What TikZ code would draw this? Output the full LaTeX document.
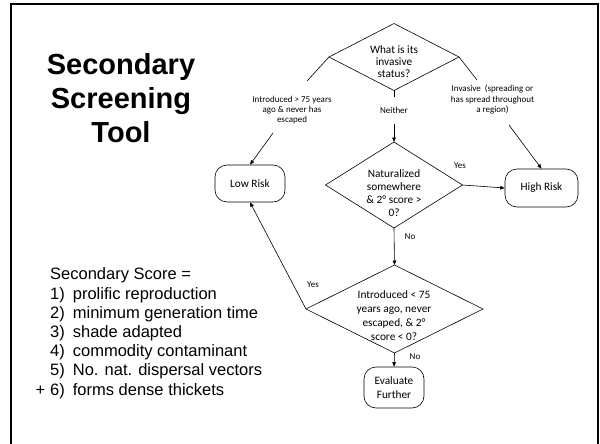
\documentclass[tikz,border=0pt]{standalone}
\usepackage{fontspec}
\setmainfont{Carlito}
\newfontfamily\arialfont{Liberation Sans}
\usetikzlibrary{arrows.meta,shapes.geometric}
\tikzset{
  flowline/.style={draw=black, line width=0.6pt},
  arrowline/.style={flowline, -{Triangle[length=4.5pt,width=3.6pt]}},
  decision/.style={draw=black, line width=0.6pt, diamond, inner sep=0pt, outer sep=0pt},
  terminal/.style={draw=black, line width=0.6pt, rectangle, rounded corners=12pt, inner sep=0pt,
    align=center, font=\fontsize{11.3}{13.5}\selectfont},
  qtext/.style={align=center, inner sep=0pt},
  smalltext/.style={align=center, inner sep=0pt, font=\fontsize{9}{10.2}\selectfont},
}
\begin{document}
\begin{tikzpicture}[x=1pt,y=-1pt]
\useasboundingbox (0,0) rectangle (600,444);
% frame
\draw[line width=2pt, line join=miter] (11,446) -- (11,4.2) -- (598.3,4.2) -- (598.3,446);

% title (base anchor = baseline of the last line)
\node[anchor=base, align=center, inner sep=0pt,
  font=\arialfont\bfseries\fontsize{29}{34}\selectfont] (title) at (121,142)
  {Secondary\\Screening\\Tool};

% secondary score list
\node[anchor=base west, align=left, inner sep=0pt,
  font=\arialfont\fontsize{16.5}{19.2}\selectfont] (score) at (50,395)
  {Secondary Score =\\
   \makebox[22.7pt][l]{1)}prolific reproduction\\
   \makebox[22.7pt][l]{2)}minimum generation time\\
   \makebox[22.7pt][l]{3)}shade adapted\\
   \makebox[22.7pt][l]{4)}commodity contaminant\\
   \makebox[22.7pt][l]{5)}No. nat. dispersal vectors\\
   \llap{+\hspace{5pt}}\makebox[22.7pt][l]{6)}forms dense thickets};

% decisions
\node[decision, minimum width=130pt, minimum height=67pt] (d1) at (394,57) {};
\node[qtext, font=\fontsize{11.3}{11.8}\selectfont] (d1t) at (394,61.7) {What is its\\invasive\\status?};

\node[decision, minimum width=137pt, minimum height=86pt] (d2) at (394,185) {};
\node[qtext, font=\fontsize{11.3}{13.2}\selectfont] (d2t) at (394,193) {Naturalized\\somewhere\\\& 2° score >\\0?};

\node[decision, minimum width=177pt, minimum height=88pt] (d3) at (394.5,309) {};
\node[qtext, font=\fontsize{11.3}{14}\selectfont] (d3t) at (394,315.5) {Introduced < 75\\years ago, never\\escaped, \& 2°\\score < 0?};

% terminals
\node[terminal, minimum width=70pt, minimum height=37pt] (low) at (250,183.5) {Low Risk};
\node[terminal, minimum width=73pt, minimum height=38pt] (high) at (541.5,188) {High Risk};
\node[terminal, minimum width=60pt, minimum height=41pt] (eval) at (394,387.5) {Evaluate\\Further};

% branch labels
\node[smalltext] (lab1) at (292,110) {Introduced > 75 years\\ago \& never has\\escaped};
\node[smalltext] (lab2) at (394,110) {Neither};
\node[smalltext] (lab3) at (492.5,99.5) {Invasive\ \ (spreading or\\has spread throughout\\a region)};
\node[smalltext] (yes1) at (460,166) {Yes};
\node[smalltext] (no1) at (410,237) {No};
\node[smalltext] (yes2) at (313,285) {Yes};
\node[smalltext] (no2) at (415,357) {No};

% connector break points around labels
\coordinate (lab1in) at (307,81);
\coordinate (lab1out) at (273,133);
\coordinate (lab2in) at (394,97);
\coordinate (lab2out) at (394,124);
\coordinate (lab3in) at (477,80);
\coordinate (lab3out) at (509,125);

% connectors
\draw[flowline] (d1.west) -- (lab1in);
\draw[arrowline] (lab1out) -- (low.north);
\draw[flowline] (d1.south) -- (lab2in);
\draw[arrowline] (lab2out) -- (d2.north);
\draw[flowline] (d1.east) -- (lab3in);
\draw[arrowline] (lab3out) -- (high.north);
\draw[arrowline] (d2.east) -- (high.west);
\draw[arrowline] (d2.south) -- (d3.north);
\draw[arrowline] (d3.west) -- (low.south);
\draw[arrowline] (d3.south) -- (eval.north);
\end{tikzpicture}
\end{document}
